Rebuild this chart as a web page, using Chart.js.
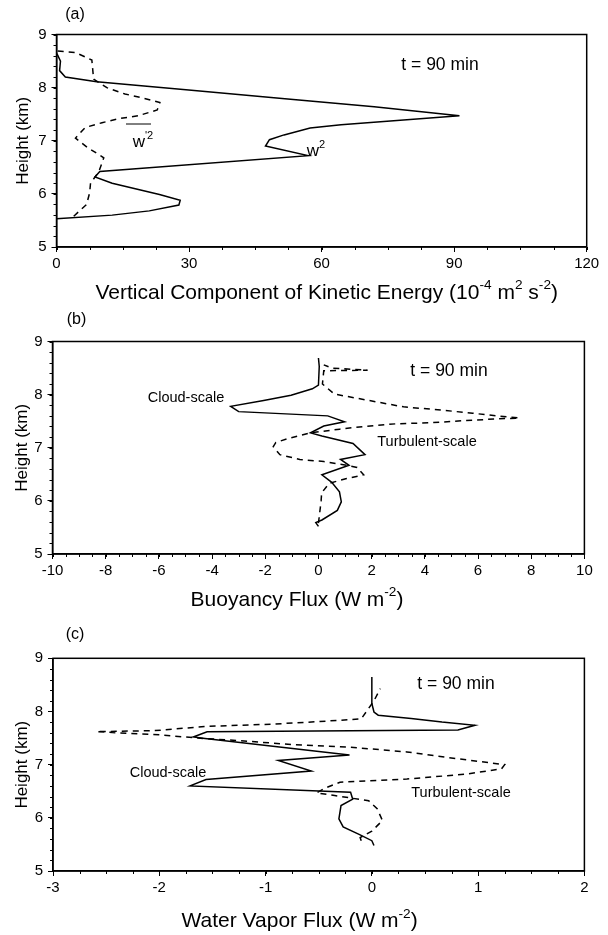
<!DOCTYPE html>
<html>
<head>
<meta charset="utf-8">
<script src="https://cdn.jsdelivr.net/npm/chart.js@4.4.0/dist/chart.umd.min.js"></script>
<style>
  html, body { margin: 0; padding: 0; background: #fff; }
  #wrap { position: relative; width: 608px; height: 935px; }
  canvas { position: absolute; left: 0; }
</style>
</head>
<body>
<div id="wrap">
  <canvas id="chartA" width="608" height="305" style="top:0"></canvas>
  <canvas id="chartB" width="608" height="315" style="top:305px"></canvas>
  <canvas id="chartC" width="608" height="315" style="top:620px"></canvas>
</div>
<script>
// shared height axis
const heightTicks = [5, 6, 7, 8, 9];

// (a) vertical component of kinetic energy, 10^-4 m2 s-2
const keTicks = [0, 30, 60, 90, 120];
const w2Height = [5.53, 5.60, 5.68, 5.79, 5.88, 5.99, 6.20, 6.32, 6.42, 6.72, 6.90, 7.02, 7.11, 7.24, 7.30, 7.47, 7.64, 7.79, 7.96, 8.11, 8.20, 8.32, 8.50, 8.64];
const w2Value  = [0, 12.6, 21.0, 27.7, 28.0, 23.3, 12.6, 8.7, 9.8, 56.9, 47.3, 48.2, 51.5, 57.4, 64.4, 91.2, 71.9, 51.7, 29.3, 9.1, 2.0, 0.7, 0.9, 0.1];
const wp2Height = [5.58, 5.80, 6.02, 6.20, 6.42, 6.68, 6.88, 7.05, 7.25, 7.34, 7.42, 7.47, 7.58, 7.72, 7.81, 7.88, 8.00, 8.16, 8.52, 8.66, 8.69];
const wp2Value  = [3.9, 6.8, 7.5, 7.7, 9.6, 10.7, 6.9, 4.3, 6.5, 10.3, 14.4, 18.5, 22.8, 23.4, 19.3, 15.5, 11.4, 8.4, 8.0, 4.3, 0.1];

// (b) buoyancy flux, W m-2
const buoyTicks = [-10, -8, -6, -4, -2, 0, 2, 4, 6, 8, 10];
const cloudBHeight = [5.52, 5.59, 5.64, 5.82, 5.98, 6.17, 6.35, 6.49, 6.67, 6.78, 6.87, 7.08, 7.22, 7.28, 7.41, 7.49, 7.60, 7.68, 7.78, 7.89, 7.99, 8.11, 8.18, 8.53, 8.69];
const cloudBValue  = [0, -0.1, 0.13, 0.71, 0.86, 0.79, 0.5, 0.13, 1.15, 0.83, 1.75, 1.3, 0.13, -0.3, 0.2, 0.98, 0.35, -3.0, -3.3, -2.06, -1.03, -0.23, 0, 0.03, 0];
const turbBHeight = [5.58, 5.83, 6.00, 6.15, 6.33, 6.42, 6.49, 6.63, 6.67, 6.74, 6.78, 6.87, 7.02, 7.10, 7.18, 7.28, 7.35, 7.40, 7.45, 7.47, 7.51, 7.54, 7.56, 7.60, 7.65, 7.71, 7.77, 7.89, 8.01, 8.20, 8.45, 8.46, 8.50, 8.56];
const turbBValue  = [0, 0.06, 0.1, 0.12, 0.4, 1.06, 1.7, 1.45, 1.06, 0.2, -0.7, -1.45, -1.7, -1.6, -1.1, -0.3, 0.8, 1.7, 2.9, 4.2, 5.45, 6.6, 7.55, 6.7, 5.8, 4.6, 3.2, 1.9, 0.6, 0.15, 0.2, 1.85, 0.5, 0.2];

// (c) water vapor flux, W m-2
const vaporTicks = [-3, -2, -1, 0, 1, 2];
const cloudCHeight = [5.48, 5.57, 5.68, 5.83, 5.98, 6.23, 6.35, 6.48, 6.60, 6.72, 6.88, 7.08, 7.18, 7.49, 7.52, 7.62, 7.65, 7.74, 7.80, 7.87, 7.93, 7.99, 8.15, 8.65];
const cloudCValue  = [0.02, 0, -0.11, -0.27, -0.31, -0.29, -0.18, -0.2, -1.71, -1.56, -0.57, -0.88, -0.21, -1.57, -1.68, -1.55, 0.81, 0.97, 0.66, 0.37, 0.06, 0.02, 0, 0];
const turbCHeight = [5.57, 5.63, 5.75, 5.95, 6.17, 6.32, 6.42, 6.47, 6.55, 6.67, 6.73, 6.82, 6.92, 7.00, 7.11, 7.24, 7.33, 7.38, 7.45, 7.50, 7.56, 7.62, 7.64, 7.72, 7.76, 7.81, 7.86, 8.20, 8.43];
const turbCValue  = [-0.1, -0.11, 0.0, 0.1, 0.05, -0.03, -0.35, -0.52, -0.45, -0.3, 0.33, 0.88, 1.22, 1.25, 0.81, 0.33, -0.22, -0.76, -1.24, -1.64, -2.0, -2.59, -2.04, -1.56, -0.95, -0.5, -0.1, 0.02, 0.08];

const FONT = '"Liberation Sans", Arial, Helvetica, sans-serif';
Chart.defaults.font.family = FONT;
Chart.defaults.color = '#000';

function pts(values, heights) {
  return values.map((v, i) => ({ x: v, y: heights[i] }));
}

// text with superscripts, drawn on the canvas
function drawRich(ctx, parts, x, y, size) {
  let total = 0;
  parts.forEach(p => {
    ctx.font = (p.sup ? size * 0.65 : size) + 'px ' + FONT;
    p.w = ctx.measureText(p.t).width;
    total += p.w;
  });
  let cx = x - total / 2;
  parts.forEach(p => {
    ctx.font = (p.sup ? size * 0.65 : size) + 'px ' + FONT;
    ctx.fillText(p.t, cx, p.sup ? y - size * 0.36 : y);
    cx += p.w;
  });
}

const framePlugin = {
  id: 'frame',
  afterDraw(chart, args, opts) {
    const { ctx, chartArea: a, scales: { x, y } } = chart;
    ctx.save();
    ctx.strokeStyle = '#000';
    ctx.lineWidth = 1.5;
    ctx.strokeRect(a.left, a.top, a.right - a.left, a.bottom - a.top);
    // minor ticks
    ctx.lineWidth = 1;
    ctx.beginPath();
    for (let v = x.min; v <= x.max + 1e-9; v += opts.xMinor) {
      const px = Math.round(x.getPixelForValue(v)) + 0.5;
      ctx.moveTo(px, a.bottom);
      ctx.lineTo(px, a.bottom + 3);
    }
    for (let v = y.min; v <= y.max + 1e-9; v += opts.yMinor) {
      const py = Math.round(y.getPixelForValue(v)) + 0.5;
      ctx.moveTo(a.left, py);
      ctx.lineTo(a.left - 3, py);
    }
    ctx.stroke();

    // texts
    ctx.fillStyle = '#000';
    ctx.textBaseline = 'middle';
    ctx.textAlign = 'left';
    opts.texts.forEach(t => {
      if (t.rotate) {
        ctx.save();
        ctx.translate(t.x, t.y);
        ctx.rotate(-Math.PI / 2);
        drawRich(ctx, t.parts, 0, 0, t.size);
        ctx.restore();
      } else {
        drawRich(ctx, t.parts, t.x, t.y, t.size);
      }
    });
    (opts.lines || []).forEach(l => {
      ctx.beginPath();
      ctx.moveTo(l[0], l[1]);
      ctx.lineTo(l[2], l[3]);
      ctx.stroke();
    });
    ctx.restore();
  }
};

function makePanel(id, p) {
  return new Chart(document.getElementById(id), {
    type: 'scatter',
    data: {
      datasets: [
        { data: p.solid, showLine: true, borderColor: '#000', borderWidth: 1.5, pointRadius: 0, tension: 0 },
        { data: p.dashed, showLine: true, borderColor: '#000', borderWidth: 1.5, borderDash: [6, 5], pointRadius: 0, tension: 0 }
      ]
    },
    options: {
      responsive: false,
      animation: false,
      events: [],
      layout: { padding: { top: p.top, left: 0, right: p.right, bottom: 0 } },
      scales: {
        x: {
          type: 'linear', min: p.xTicks[0], max: p.xTicks[p.xTicks.length - 1],
          afterBuildTicks: s => { s.ticks = p.xTicks.map(v => ({ value: v })); },
          afterFit: s => { s.height = p.xH; },
          grid: { drawOnChartArea: false, tickLength: 5, tickColor: '#000', tickWidth: 1 },
          border: { color: '#000', width: 1.5 },
          ticks: { font: { size: 15 }, color: '#000', padding: 3, maxRotation: 0, autoSkip: false, callback: v => String(v) }
        },
        y: {
          type: 'linear', min: 5, max: 9,
          afterBuildTicks: s => { s.ticks = heightTicks.map(v => ({ value: v })); },
          afterFit: s => { s.width = p.yW; },
          grid: { drawOnChartArea: false, tickLength: 5, tickColor: '#000', tickWidth: 1 },
          border: { color: '#000', width: 1.5 },
          ticks: { font: { size: 15 }, color: '#000', padding: 5, autoSkip: false, callback: v => String(v) }
        }
      },
      plugins: {
        legend: { display: false },
        tooltip: { enabled: false },
        frame: { xMinor: p.xMinor, yMinor: 0.2, texts: p.texts, lines: p.lines }
      }
    },
    plugins: [framePlugin]
  });
}

makePanel('chartA', {
  solid: pts(w2Value, w2Height), dashed: pts(wp2Value, wp2Height),
  xTicks: keTicks, xMinor: 7.5, top: 34.5, right: 21.3, yW: 56.5, xH: 58,
  texts: [
    { parts: [{ t: '(a)' }], x: 75, y: 15, size: 16 },
    { parts: [{ t: 't = 90 min' }], x: 440, y: 65, size: 17.5 },
    { parts: [{ t: 'Height (km)' }], x: 23, y: 140.75, size: 17, rotate: true },
    { parts: [{ t: 'w' }, { t: "'2", sup: true }], x: 143, y: 142, size: 17 },
    { parts: [{ t: 'w' }, { t: '2', sup: true }], x: 316, y: 151, size: 17 },
    { parts: [{ t: 'Vertical Component of Kinetic Energy (10' }, { t: '-4', sup: true }, { t: ' m' }, { t: '2', sup: true }, { t: ' s' }, { t: '-2', sup: true }, { t: ')' }], x: 326.7, y: 293, size: 21 }
  ],
  lines: [[126, 124, 151, 124]]
});

makePanel('chartB', {
  solid: pts(cloudBValue, cloudBHeight), dashed: pts(turbBValue, turbBHeight),
  xTicks: buoyTicks, xMinor: 0.5, top: 36.5, right: 23.6, yW: 52.5, xH: 66,
  texts: [
    { parts: [{ t: '(b)' }], x: 76.5, y: 15, size: 16 },
    { parts: [{ t: 't = 90 min' }], x: 449, y: 66, size: 17.5 },
    { parts: [{ t: 'Cloud-scale' }], x: 186, y: 93, size: 14.5 },
    { parts: [{ t: 'Turbulent-scale' }], x: 427, y: 137, size: 14.5 },
    { parts: [{ t: 'Height (km)' }], x: 22, y: 142.75, size: 17, rotate: true },
    { parts: [{ t: 'Buoyancy Flux (W m' }, { t: '-2', sup: true }, { t: ')' }], x: 297, y: 295, size: 21 }
  ]
});

makePanel('chartC', {
  solid: pts(cloudCValue, cloudCHeight), dashed: pts(turbCValue, turbCHeight),
  xTicks: vaporTicks, xMinor: 0.25, top: 38.3, right: 23.6, yW: 53, xH: 64,
  texts: [
    { parts: [{ t: '(c)' }], x: 75, y: 15, size: 16 },
    { parts: [{ t: 't = 90 min' }], x: 456, y: 64, size: 17.5 },
    { parts: [{ t: 'Cloud-scale' }], x: 168, y: 153, size: 14.5 },
    { parts: [{ t: 'Turbulent-scale' }], x: 461, y: 173, size: 14.5 },
    { parts: [{ t: 'Height (km)' }], x: 22, y: 144.7, size: 17, rotate: true },
    { parts: [{ t: 'Water Vapor Flux (W m' }, { t: '-2', sup: true }, { t: ')' }], x: 299.6, y: 301.7, size: 21 }
  ]
});
</script>
</body>
</html>
